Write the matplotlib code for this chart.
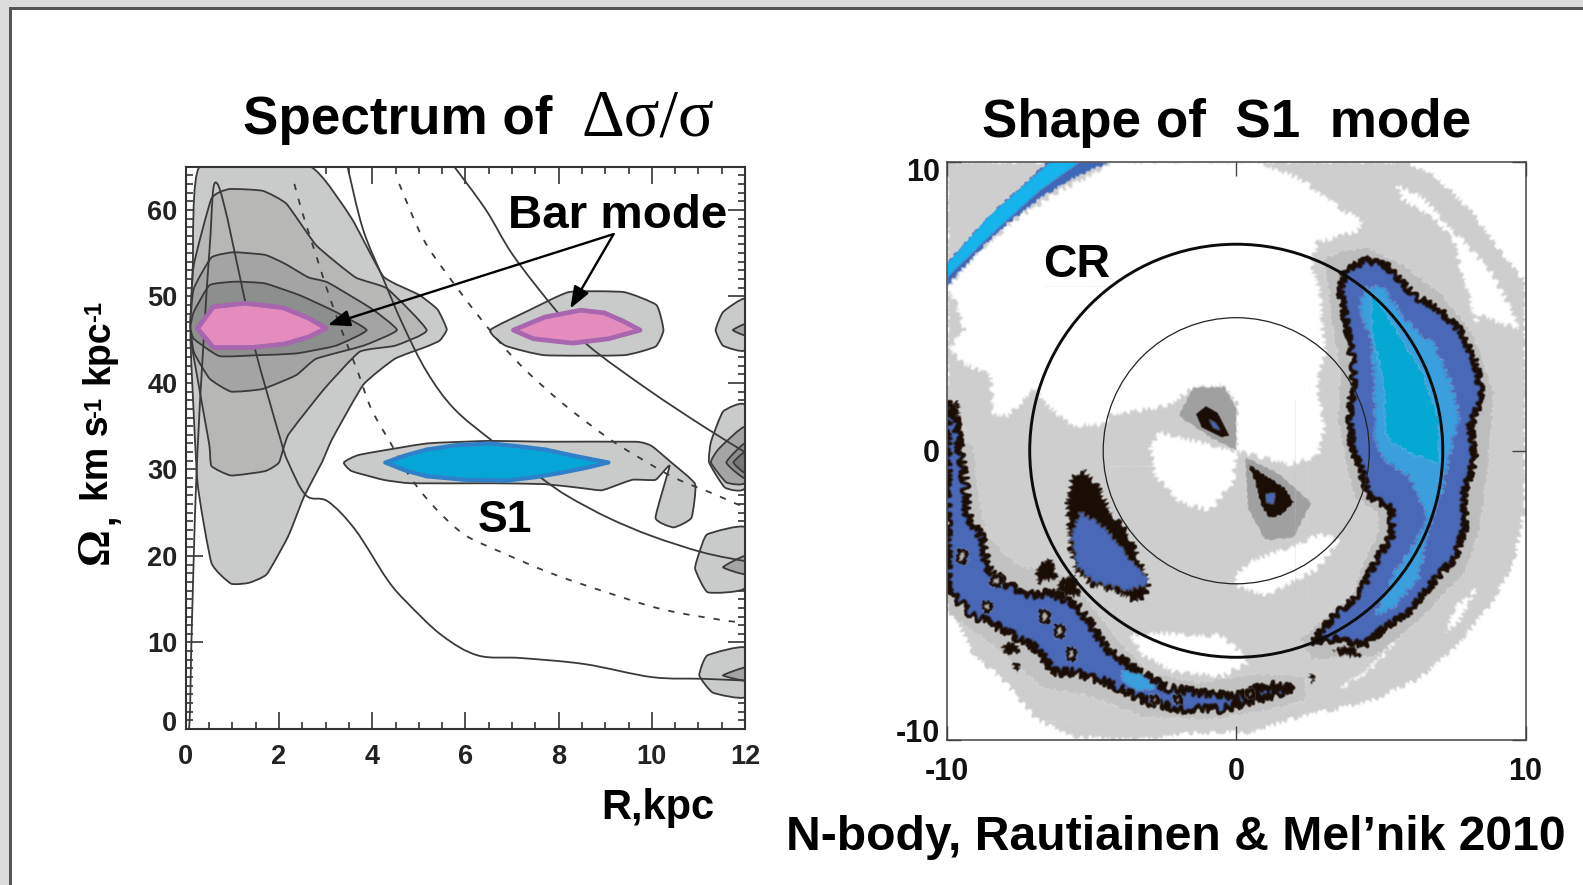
import numpy as np
import matplotlib
matplotlib.use("Agg")
import matplotlib.pyplot as plt
from matplotlib.patches import Polygon, Circle, Rectangle, PathPatch
from matplotlib.path import Path
from matplotlib.ticker import MultipleLocator
from matplotlib.transforms import ScaledTranslation

W, H = 1583, 885
plt.rcParams['font.family'] = ['Liberation Sans', 'DejaVu Sans']

# Left panel: contours of the spectrum, (R, Omega)
level1 = [(0.3, 65), (2.67, 65), (3.56, 59), (4.24, 52.3), (5.0, 50.2), (5.4, 48.5), (5.6, 46.2), (5.45, 44.9),
          (5.17, 44.2), (4.49, 42.8), (3.81, 39.8), (3.14, 33.5), (2.92, 30.8), (2.54, 26.9), (2.2, 22.3), (1.74, 17.9),
          (1.36, 16.9), (0.97, 16.8), (0.55, 19.2), (0.25, 28.5), (0.1, 45), (0.15, 53.6)]
level2 = [(0.17, 53.6), (0.55, 61.3), (0.93, 62.4), (1.65, 62.2), (2.16, 60.7), (2.8, 55.9), (3.64, 52.2),
          (4.32, 50.9), (5.17, 46.1), (4.49, 44.3), (3.73, 43.6), (2.97, 39.3), (2.2, 34), (2.0, 30.8),
          (1.7, 29.8), (0.97, 29.3), (0.55, 30.4), (0.5, 33), (0.15, 43.6), (0.1, 47)]
level3 = [(0.17, 50.9), (0.55, 54.5), (1.02, 55.1), (1.7, 54.8), (2.12, 53.8), (2.63, 52.2), (3.05, 51.6),
          (3.98, 48.6), (4.53, 46.1), (3.81, 44.3), (2.8, 42.8), (2.37, 40.9), (1.65, 39.3), (0.97, 39),
          (0.51, 40.5), (0.17, 43.6), (0.1, 47)]
level4 = [(0.17, 48.2), (0.51, 51.3), (1.06, 51.7), (1.7, 51.5), (2.46, 50.1), (3.22, 48.2), (3.88, 46.1),
          (3.22, 44.3), (2.37, 43.4), (1.53, 43.2), (0.72, 43.1), (0.17, 45.1), (0.1, 46.5)]
pink_left = [(0.25, 46.3), (0.59, 48.8), (1.27, 49.2), (2.08, 48.7), (2.63, 47.5), (3.01, 46.3), (2.63, 45.3),
             (2.12, 44.5), (1.44, 44.1), (0.59, 44.1)]
lobe_right = [(6.53, 46.1), (7.37, 48.4), (8.22, 50.5), (9.4, 50.5), (10.1, 49), (10.25, 46.1), (10.08, 44.2),
              (9.4, 43.2), (7.7, 43.2), (6.86, 44.3)]
pink_right = [(7.03, 46.1), (7.7, 47.6), (8.47, 48.4), (8.98, 48.1), (9.4, 47.1), (9.75, 46.1), (9.07, 45.1),
              (8.3, 44.6), (7.46, 45.1)]
s1_gray = [(3.39, 30.8), (3.73, 31.7), (5.17, 33), (6.53, 33.3), (7.71, 33.2), (9.66, 33.2), (10, 32.7),
           (10.42, 30.8), (10.93, 28.3), (10.85, 24.4), (10.47, 23.3), (10.08, 24.4), (10.38, 30.4), (10.08, 28.8),
           (9.58, 28.8), (8.94, 27.6), (8.56, 27.8), (7.71, 28.3), (6.53, 28.4), (4.83, 28.4), (4.24, 28.8),
           (3.56, 29.8)]
s1_blue = [(4.28, 30.8), (4.7, 31.6), (5.17, 32.3), (5.8, 32.8), (6.53, 33), (7.1, 32.7), (7.71, 32.3), (8.4, 31.5),
           (9.07, 30.8), (8.6, 30.2), (8.05, 29.6), (7.5, 29.1), (6.86, 28.7), (6, 28.8), (5.17, 29.2), (4.7, 29.9)]
edge_46 = [(12, 49.7), (11.53, 48.2), (11.37, 46.1), (11.53, 44.3), (12, 43.8)]
edge_46b = [(12, 46.8), (11.74, 46.1), (12, 45.5)]
edge_30a = [(12, 37.4), (11.53, 36.7), (11.27, 33.2), (11.23, 30.8), (11.57, 27.9), (12, 27.9)]
edge_30b = [(12, 34.9), (11.44, 32.4), (11.27, 30.8), (11.6, 28.5), (12, 28.5)]
edge_30c = [(12, 33), (11.6, 30.8), (12, 29)]
edge_30d = [(12, 32), (11.75, 30.8), (12, 29.6)]
edge_20 = [(12, 23.3), (11.19, 22.5), (11.02, 20.4), (10.93, 18.5), (11.2, 15.8), (12, 16.3)]
edge_20b = [(12, 20), (11.53, 18.7), (12, 17.9)]
edge_5 = [(12, 9.4), (11.19, 8.5), (11.02, 6.2), (11.31, 4.2), (12, 3.7)]
edge_5b = [(12, 7.1), (11.53, 6.2), (12, 5.6)]

# Left panel: resonance curves
curve_a = [(0.0, 0), (0.08, 0.8), (0.13, 12), (0.25, 32), (0.51, 55.5), (0.68, 63), (1.27, 49.5), (1.48, 44),
           (2.03, 33.5), (2.2, 30.8), (2.58, 27), (3.05, 26.3), (3.64, 23), (4.32, 17.3), (4.75, 14.6), (5.5, 10.8),
           (6.27, 8.5), (7.2, 8.2), (8.56, 7.5), (10, 6), (11.1, 5.8), (12, 5.6)]
curve_b = [(3.47, 65), (3.8, 57.8), (4.24, 52), (4.66, 46.7), (5.17, 41.3), (5.76, 37), (6.6, 33.2), (7.63, 29),
           (8.2, 26.9), (9.07, 24.4), (10, 22.3), (11.1, 20.4), (12, 19.4)]
curve_c = [(5.76, 65), (6.44, 60), (7.03, 54.7), (7.97, 48.2), (8.64, 44.3), (9.9, 39.3), (11.1, 35), (12, 32)]
dash_a = [(2.33, 63), (2.5, 59.7), (2.84, 54), (3.1, 49.7), (3.4, 45.3), (3.69, 41.3), (3.98, 37), (4.4, 33),
          (4.83, 29), (5.34, 25.6), (5.97, 22.5), (6.7, 20.6), (7.84, 18), (9.03, 15.8), (10.25, 13.8), (11.5, 12.6),
          (12, 12.3)]
dash_b = [(4.58, 63), (5.08, 56.8), (5.6, 52.6), (6.36, 47.2), (7.12, 42.4), (8.05, 37.8), (9.07, 33.6), (9.75, 31.3),
          (10.5, 29), (11.27, 27.3), (11.74, 26.2), (12, 25.6)]

# Right panel: gray field and the white parts cut out of it, (x, y)
field = [(-10, -5.2), (-9.1, -7), (-8, -8), (-6.9, -9.3), (-5.6, -9.9), (-3.5, -10), (-1.3, -9.75), (0.45, -9.75),
         (2.2, -9.2), (4.55, -8.7), (6.3, -7.9), (7.55, -6.85), (8.8, -5.35), (9.6, -3.85), (10, -1.9), (10, 5.8),
         (9, 7.1), (8.2, 8.2), (6.9, 9.5), (5.9, 10), (-10, 10)]
white_top = [(-10, 5.6), (-8.8, 7), (-7.6, 8), (-6.25, 8.9), (-4.9, 9.6), (-4.33, 10), (0.72, 10), (2.2, 9.4),
             (3.46, 8.47), (4.4, 7.9), (4.1, 7.55), (2.8, 7.2), (2.6, 6.5), (2.9, 5.36), (3.05, 3.3), (2.8, 2.36),
             (3.05, 0.75), (2.8, -0.2), (1.8, -0.46), (0, 0), (0, 1.67), (-0.5, 2.25), (-1.46, 2.2), (-2.4, 1.55),
             (-3.8, 1.3), (-4.3, 1.3), (-4.6, 0.9), (-5.7, 0.86), (-6.65, 1.67), (-6.9, 2.25), (-7.9, 1.2),
             (-8.4, 1.3), (-8.5, 2.6), (-9.4, 3), (-9.93, 3.5), (-9.4, 4.2), (-9.7, 5.1)]
white_wedge = [(-2.69, 0.63), (0, 0), (-0.1, -1.07), (-0.9, -2.06), (-2, -1.77), (-2.8, -0.84), (-2.97, 0.08)]
white_crescent = [(0, -4.3), (0.45, -3.85), (3, -2.87), (3.55, -3.15), (2.8, -4.08), (1.1, -5), (0, -4.7)]
white_bottom = [(-3.65, -6.4), (-2.7, -6.3), (-0.5, -6.4), (0.18, -7), (0.45, -7.3), (-0.5, -7.8), (-2.1, -7.66),
                (-3.2, -7.1)]
white_ring = [(5.57, 9.16), (6.4, 8.8), (7.7, 7.4), (8.8, 6.2), (9.6, 4.7), (9.8, 4.2), (9.5, 4.3), (8.4, 4.7),
              (8.3, 4.4), (7.5, 7.3), (7, 7.9), (5.75, 8.7)]
white_low = [(8.3, -4.8), (7.7, -5.9), (7.2, -6.3), (7.5, -5.5)]
white_low2 = [(5.5, -6.6), (4.3, -7.8), (3.6, -8.2), (4.6, -7.6)]
white_corner = [(-7.6, -9.8), (-6.9, -9.4), (-5.6, -10), (-7, -10)]
mid_halo_up = [(-1.5, 2.2), (-0.4, 2.2), (0, 1.5), (0, 0), (-0.8, 0.4), (-2.0, 1.2)]
mid_halo_down = [(0.3, -0.2), (1.5, -0.8), (2.6, -1.8), (2, -3), (1, -3.1), (0.4, -2)]
mid_band = [(3, 6.6), (3.6, 6.9), (4.6, 7), (5.8, 6.4), (7.2, 5.3), (8.2, 4), (8.9, 2), (8.7, -0.5), (8.4, -2.8),
            (7.9, -4.2), (6.3, -5.9), (4.8, -7.1), (2.6, -7.2), (2.2, -6.5), (4, -5), (4.5, -3.6), (4.9, -2.9),
            (4.9, -2.2), (4.1, -1.6), (3.8, -0.5), (3.5, 1.2), (3.6, 2.8), (3.3, 4.4), (3.2, 5.5)]
mid_left = [(-10, 0.5), (-9.1, 0.2), (-8.9, -1.6), (-8.6, -3), (-7.5, -4), (-6.2, -4.2), (-5.2, -5.1), (-4.2, -6.4),
            (-3, -7.7), (-1.3, -8), (1, -7.7), (2.4, -7.8), (2.4, -8.6), (1, -9), (-1, -9.3), (-3.2, -9.2),
            (-5, -8.5), (-6.7, -8.2), (-8.3, -6.8), (-10, -5.6)]

# Right panel: mode shape
arc_edge = [(-10, 6.5), (-8.56, 8.1), (-6.5, 10), (-4.33, 10), (-5.7, 9.4), (-6.8, 8.7), (-8.15, 7.66), (-9.1, 6.7),
            (-10, 5.7)]
arc_cyan = [(-10, 6.45), (-8.56, 8.1), (-6.4, 10), (-5.4, 10), (-6.8, 9), (-8.56, 7.4), (-10, 6)]
crescent = [(3.73, 6.2), (4.47, 6.6), (5.2, 6.4), (6.15, 5.36), (7, 4.9), (7.7, 4.2), (8.25, 3.17), (8.5, 1.9),
            (8.1, 0.86), (8.25, -0.29), (7.9, -1.42), (7.9, -2.7), (7.55, -3.73), (6.9, -4.43), (5.95, -5.58),
            (5.1, -6.16), (4.4, -6.74), (3.6, -6.5), (2.6, -6.6), (3.3, -5.8), (4.27, -4.9), (4.8, -3.85), (5.37, -2.92),
            (5.37, -2), (4.55, -1.54), (4.28, -0.5), (4, 0), (3.93, 1.2), (4.07, 2.8), (3.8, 4.4), (3.6, 5.47)]
crescent_mid = [(4.4, 5.6), (5, 5.7), (6.05, 4.3), (6.87, 3.63), (7.4, 2.36), (7.7, 1.2), (7.3, -0.4), (7.2, -1.07),
                (6.6, -2.8), (6.3, -4.43), (5.37, -5.47), (4.8, -5.7), (5.5, -4.2), (6.6, -2.46), (6.05, -0.96),
                (5.1, -0.27), (4.8, 0.43), (4.8, 1.8), (4.7, 3.74), (4.28, 4.9)]
crescent_in = [(4.7, 5.47), (5.5, 4.2), (6.46, 2.6), (7, 1), (7, -0.4), (6.2, -0.15), (5.37, 0.3), (5.2, 0.63),
               (5.1, 2.36), (4.7, 4.2)]
band_low = [(-10, 1.7), (-9.7, 1.2), (-9.55, 0), (-9.35, -1.3), (-9.3, -2.2), (-8.8, -3), (-8.6, -4), (-8.05, -4.54),
            (-7.2, -5), (-6.4, -4.9), (-5.5, -5.35), (-4.75, -6.4), (-4.3, -7), (-3.5, -7.55), (-2.4, -8.2),
            (-1.3, -8.36), (-0.1, -8.5), (1.1, -8.1), (2, -8.2), (1.1, -8.5), (-0.5, -8.94), (-1.9, -8.94), (-3, -8.7),
            (-4.5, -8), (-5.6, -7.66), (-6.3, -7.66), (-6.9, -6.85), (-8, -6.2), (-9.1, -5.7), (-10, -4.8)]
band_spot = [(-4, -7.6), (-3.3, -7.7), (-2.8, -8.2), (-3.4, -8.3), (-3.9, -8)]
band_holes = [[(-9.6, -3.4), (-9.3, -3.5), (-9.4, -3.9), (-9.65, -3.8)],
              [(-8.4, -4.3), (-8.1, -4.4), (-8.2, -4.7), (-8.5, -4.6)],
              [(-6.8, -5.5), (-6.45, -5.6), (-6.5, -5.95), (-6.75, -5.9)],
              [(-5.85, -6.8), (-5.55, -6.9), (-5.6, -7.25), (-5.8, -7.2)],
              [(-6.25, -6), (-5.95, -6.1), (-6, -6.45), (-6.25, -6.4)],
              [(-8.75, -5.2), (-8.45, -5.3), (-8.5, -5.55), (-8.7, -5.55)],
              [(-2.95, -8.45), (-2.7, -8.5), (-2.7, -8.75), (-2.9, -8.7)],
              [(-2.15, -8.45), (-1.9, -8.5), (-1.9, -8.75), (-2.1, -8.7)],
              [(0.35, -8.25), (0.6, -8.3), (0.6, -8.55), (0.4, -8.5)]]
blob_black = [(-5.3, -0.6), (-4.7, -1.3), (-4.35, -2.1), (-3.8, -2.7), (-3.4, -3.6), (-3, -4.54), (-3.1, -5),
              (-3.5, -5.24), (-4.1, -4.9), (-5, -4.66), (-5.6, -4.1), (-5.8, -3.16), (-5.85, -1.77), (-5.7, -0.96)]
blob_blue = [(-5.4, -2.1), (-4.5, -2.7), (-3.6, -3.85), (-3, -4.54), (-3.65, -4.83), (-4.9, -4.54), (-5.5, -4),
             (-5.7, -3)]
scraps_black = [[(-6.9, -4), (-6.4, -3.7), (-6.2, -4.4), (-6.9, -4.6)],
                [(-6.2, -4.5), (-5.6, -4.3), (-5.4, -5), (-6.1, -5.1)],
                [(-7.3, -5), (-6.6, -4.8), (-6.6, -5.5), (-7.2, -5.6)],
                [(-8.1, -6.7), (-7.6, -6.6), (-7.5, -7), (-8, -7)],
                [(-7.7, -7.3), (-7.5, -7.3), (-7.5, -7.6), (-7.7, -7.6)],
                [(2.55, -7.7), (2.7, -7.7), (2.7, -8), (2.55, -8)],
                [(3.3, -6.9), (4, -6.7), (4.3, -7.1), (3.7, -7.1)],
                [(-9.9, 1.7), (-9.6, 1.7), (-9.6, 0.6), (-9.9, 0.6)]]
dot_up = [(-1.4, 1.27), (-1.05, 1.55), (-0.64, 1.32), (-0.23, 0.52), (-0.5, 0.46), (-1.2, 0.8)]
dot_up_blue = [(-0.95, 1.1), (-0.7, 0.95), (-0.55, 0.7), (-0.8, 0.8)]
dot_down = [(0.38, -0.44), (1, -0.84), (1.7, -1.3), (2, -1.77), (1.55, -2.23), (1.13, -2.32), (0.86, -1.88), (0.65, -1.07)]
dot_down_blue = [(1.0, -1.5), (1.35, -1.45), (1.3, -1.85), (1.05, -1.8)]

cr_radius = 7.14
inner_radius = 4.6


def px(x, y):
    return x / W, 1 - y / H


def axes_px(x0, y0, x1, y1):
    return fig.add_axes([x0 / W, 1 - y1 / H, (x1 - x0) / W, (y1 - y0) / H])


def smooth_path(pts, closed=False, k=1 / 6):
    # bezier path going through the read points
    p = np.array(pts, dtype=float)
    n = len(p)
    if closed:
        idx = lambda i: p[i % n]
        segs = n
    else:
        idx = lambda i: p[min(max(i, 0), n - 1)]
        segs = n - 1
    verts = [p[0]]
    codes = [Path.MOVETO]
    for i in range(segs):
        a, b, c, d = idx(i - 1), idx(i), idx(i + 1), idx(i + 2)
        verts += [b + (c - a) * k, c - (d - b) * k, c]
        codes += [Path.CURVE4] * 3
    return Path(verts, codes)


def blur(image, dpi):
    # soft scan look of the original map
    out = image.astype(float)
    for axis in (0, 1):
        out = (np.roll(out, 1, axis) + out * 2 + np.roll(out, -1, axis)) / 4
    return out, 0, 0


fig = plt.figure(figsize=(W / 100, H / 100), dpi=100, facecolor="white")

# slide frame
fig.add_artist(Rectangle((0, 0), 9 / W, 1, transform=fig.transFigure, fc="#dcdcdc", ec="none"))
fig.add_artist(Rectangle((0, 1 - 7 / H), 1, 7 / H, transform=fig.transFigure, fc="#dcdcdc", ec="none"))
fig.add_artist(Rectangle((9 / W, 0), 2.5 / W, 1 - 7 / H, transform=fig.transFigure, fc="#555555", ec="none"))
fig.add_artist(Rectangle((9 / W, 1 - 9.5 / H), 1 - 9 / W, 2.5 / H, transform=fig.transFigure, fc="#555555", ec="none"))

# left panel
ax = axes_px(185.8, 166.6, 745, 729)
ax.set_xlim(0, 12)
ax.set_ylim(0, 65)


def contour(pts, color, edge="#3a3a3a", lw=1.3, z=2, k=1 / 14):
    ax.add_patch(PathPatch(smooth_path(pts, closed=True, k=k), fc=color, ec=edge, lw=lw, zorder=z))


for pts in [level1, lobe_right, s1_gray, edge_46, edge_30a, edge_20, edge_5]:
    contour(pts, "#c9cbca")
contour(level2, "#b7b7b5", z=3)
contour(level3, "#a3a4a3", z=4)
contour(level4, "#8d8e8e", z=5)
for pts in [edge_46b, edge_30b, edge_20b, edge_5b]:
    contour(pts, "#a3a4a3", z=3)
contour(edge_30c, "#8d8e8e", z=4)
contour(edge_30d, "#777777", z=5)

for pts in [curve_a, curve_b, curve_c]:
    ax.add_patch(PathPatch(smooth_path(pts), fc="none", ec="#3a3a3a", lw=1.3, zorder=6))
for pts in [dash_a, dash_b]:
    ax.add_patch(PathPatch(smooth_path(pts), fc="none", ec="#3a3a3a", lw=1.3, ls=(0, (3.5, 5)), zorder=6))

for pts in [pink_left, pink_right]:
    ax.add_patch(Polygon(pts, closed=True, fc="#e48cbd", ec="#a766ae", lw=3.4, zorder=7, joinstyle="round"))
ax.add_patch(Polygon(s1_blue, closed=True, fc="#05a5d8", ec="#2f80c8", lw=3, zorder=7, joinstyle="round"))

ax.set_xticks([0, 2, 4, 6, 8, 10, 12])
ax.set_yticks([0, 10, 20, 30, 40, 50, 60])
ax.xaxis.set_minor_locator(MultipleLocator(0.5))
ax.yaxis.set_minor_locator(MultipleLocator(1))
ax.tick_params(which="major", direction="in", length=12, width=1.2, top=True, right=True, color="#333333", pad=11)
ax.tick_params(which="minor", direction="in", length=5, width=1.2, top=True, right=True, color="#333333")
ax.tick_params(axis="y", pad=6)
ax.tick_params(labelsize=19.5, labelcolor="#222222")
for s in ax.spines.values():
    s.set_linewidth(1.5)
    s.set_color("#333333")
    s.set_zorder(10)
for lab in ax.get_xticklabels() + ax.get_yticklabels():
    lab.set_fontweight("bold")
ax.get_yticklabels()[0].set_transform(ax.get_yticklabels()[0].get_transform()
                                      + ScaledTranslation(0, 6 / 72, fig.dpi_scale_trans))

# arrows of the bar mode label
for tip in [(3.05, 46.7), (8.25, 48.6)]:
    ax.annotate("", xy=tip, xytext=(9.18, 57.2), zorder=9,
                arrowprops=dict(arrowstyle="-|>,head_length=0.95,head_width=0.36", color="black", lw=1.7,
                                shrinkA=0, shrinkB=0, mutation_scale=14))

# right panel
ax2 = axes_px(947, 161.5, 1525.5, 740)
ax2.set_xlim(-10, 10)
ax2.set_ylim(-10, 10)


def shape(pts, color, z=2, edge="none", lw=0, rough=None):
    p = Polygon(pts, closed=True, fc=color, ec=edge, lw=lw, zorder=z, joinstyle="round")
    if rough:
        p.set_sketch_params(*rough)
    p.set_agg_filter(blur)
    ax2.add_patch(p)


shape(field, "#cecece", z=1, rough=(2.5, 6, 8))
shape(mid_band, "#bdbdbd", z=1.2, rough=(1.5, 8, 6))
shape(mid_left, "#c2c2c2", z=1.2, rough=(1.5, 8, 6))
for pts in [white_top, white_wedge, white_crescent, white_bottom, white_ring, white_low, white_low2, white_corner]:
    shape(pts, "white", z=1.5, rough=(2.6, 6, 8))
shape(mid_halo_up, "#a0a0a0", z=2, rough=(0.6, 12, 4))
shape(mid_halo_down, "#a0a0a0", z=2, rough=(0.6, 12, 4))

shape(arc_edge, "#3f67b5", z=3, rough=(1.5, 6, 6))
shape(arc_cyan, "#15b4ec", z=3.2)
for pts in scraps_black:
    shape(pts, "#1a0d05", z=3, rough=(2.5, 4, 8))
shape(crescent, "#4a68b8", z=3, edge="#1a0d05", lw=2.6, rough=(3.5, 4, 8))
shape(crescent_mid, "#3a9fdc", z=3.2, rough=(2.5, 5, 8))
shape(crescent_in, "#05a8d2", z=3.4, rough=(1.5, 6, 6))
shape(band_low, "#4a68b8", z=3, edge="#1a0d05", lw=2.4, rough=(4.5, 4, 8))
shape(band_spot, "#3a9fdc", z=3.2, rough=(1, 8, 6))
for pts in band_holes:
    shape(pts, "#b5b5b5", z=3.3, edge="#1a0d05", lw=1.6, rough=(1.5, 3, 6))
shape(blob_black, "#1a0d05", z=3, rough=(3, 5, 8))
shape(blob_blue, "#4a68b8", z=3.2, rough=(2, 5, 6))
shape(dot_up, "#1a0d05", z=3)
shape(dot_up_blue, "#4a68b8", z=3.2)
shape(dot_down, "#1a0d05", z=3, rough=(0.8, 8, 4))
shape(dot_down_blue, "#4a68b8", z=3.2)

ax2.add_patch(Circle((0, 0), cr_radius, fc="none", ec="#0c0c0c", lw=2.1, zorder=5))
ax2.add_patch(Circle((0, 0), inner_radius, fc="none", ec="#222222", lw=0.9, zorder=5))

ax2.set_xticks([-10, 0, 10], ["-10", "0", "10"])
ax2.set_yticks([-10, 0, 10], ["-10", "0", "10"])
ax2.tick_params(direction="in", length=10, width=1, top=True, right=True, color="#444444", pad=12,
                labelsize=22, labelcolor="#111111")
ax2.tick_params(axis="y", pad=5)
for s in ax2.spines.values():
    s.set_linewidth(1.1)
    s.set_color("#444444")
    s.set_zorder(10)
for lab in ax2.get_xticklabels() + ax2.get_yticklabels():
    lab.set_fontweight("bold")
low, mid, top = ax2.get_yticklabels()
low.set_transform(low.get_transform() + ScaledTranslation(0, 7 / 72, fig.dpi_scale_trans))
top.set_transform(top.get_transform() + ScaledTranslation(0, -6 / 72, fig.dpi_scale_trans))

# titles and labels
SERIF = ["Liberation Serif", "DejaVu Serif"]


def label(x, y, s, size, ha="left", **kw):
    fig.text(*px(x, y), s, fontsize=size, ha=ha, va="center", fontweight=kw.pop("weight", "bold"), zorder=20, **kw)


label(243, 120, "Spectrum of", 38.2)
label(581, 119, "Δσ/σ", 48, weight="normal", family=SERIF)
label(982, 123, "Shape of  S1  mode", 38.2)
label(618, 216, "Bar mode", 34.2, ha="center")
label(505, 520, "S1", 32, ha="center")
label(1077, 265, "CR", 33.5, ha="center")
label(658, 808, "R,kpc", 30, ha="center")
label(786, 838, "N-body, Rautiainen & Mel’nik 2010", 34.7)

# y label, piece by piece because of the serif omega
label(97, 546, "Ω", 33, ha="center", rotation=90, family=SERIF)
label(103, 519, ",", 27, ha="center", rotation=90)
label(98, 458, "km s", 27, ha="center", rotation=90)
label(95, 407, "-1", 17, ha="center", rotation=90)
label(98, 352, "kpc", 27, ha="center", rotation=90)
label(95, 311, "-1", 17, ha="center", rotation=90)

fig.savefig("out.png", dpi=100)
